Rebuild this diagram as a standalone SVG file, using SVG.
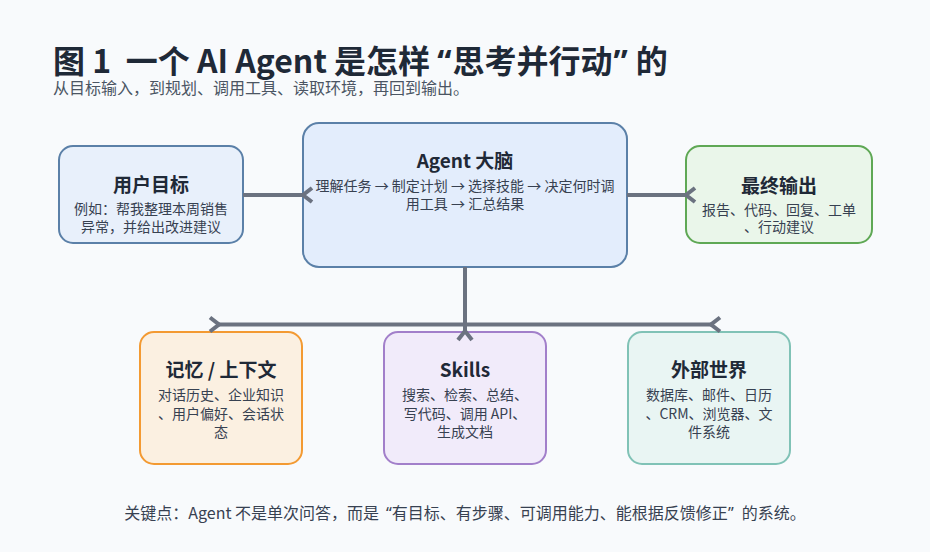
<svg xmlns="http://www.w3.org/2000/svg" width="930" height="552" viewBox="0 0 930 552">
<defs>
<style>
text{font-family:"Noto Sans CJK SC","Noto Sans",sans-serif;}
.title{font-size:32px;font-weight:700;fill:#1f2937;}
.sub{font-size:16px;fill:#4b5563;}
.nt{font-size:19px;font-weight:700;fill:#1f2937;text-anchor:middle;}
.nb{font-size:14px;fill:#374151;text-anchor:middle;}
.foot{font-size:16px;fill:#374151;text-anchor:middle;}
.q{font-family:"Noto Sans",sans-serif;}
.box{stroke-width:2;}
.conn{fill:none;stroke:#6b7280;stroke-width:4;marker-end:url(#chev);}
</style>
<marker id="chev" viewBox="-3 -10 16 20" markerWidth="16" markerHeight="20" refX="0" refY="0" orient="auto" markerUnits="userSpaceOnUse">
<path d="M9,-7 L0,0 L9,7" fill="none" stroke="#6b7280" stroke-width="4"/>
</marker>
</defs>
<rect width="930" height="552" fill="#f8fafc"/>
<text class="title" x="53" y="73" xml:space="preserve">图 1  一个 AI Agent 是怎样<tspan class="q" dx="7">“</tspan><tspan dx="1">思考并行动</tspan><tspan class="q" dx="1">”</tspan><tspan dx="8">的</tspan></text>
<text class="sub" x="53" y="94">从目标输入，到规划、调用工具、读取环境，再回到输出。</text>

<g id="node-goal">
<rect class="box" x="59" y="146" width="184" height="97" rx="14" fill="#e8f0fb" stroke="#5b80a8"/>
<text class="nt" x="151" y="192">用户目标</text>
<text class="nb" x="151" y="214">例如：帮我整理本周销售</text>
<text class="nb" x="151" y="232">异常，并给出改进建议</text>
</g>
<g id="node-brain">
<rect class="box" x="303" y="123" width="324" height="144" rx="16" fill="#e3edfc" stroke="#5b80a8"/>
<text class="nt" x="465" y="168">Agent 大脑</text>
<text class="nb" x="465" y="191">理解任务 → 制定计划 → 选择技能 → 决定何时调</text>
<text class="nb" x="465" y="209">用工具 → 汇总结果</text>
</g>
<g id="node-output">
<rect class="box" x="686" y="146" width="186" height="97" rx="14" fill="#eaf6ea" stroke="#5fa855"/>
<text class="nt" x="779" y="193">最终输出</text>
<text class="nb" x="779" y="215">报告、代码、回复、工单</text>
<text class="nb" x="779" y="232">、行动建议</text>
</g>
<g id="node-memory">
<rect class="box" x="140" y="332" width="162" height="132" rx="14" fill="#fbf0e1" stroke="#f39a32"/>
<text class="nt" x="221" y="377">记忆 / 上下文</text>
<text class="nb" x="221" y="400">对话历史、企业知识</text>
<text class="nb" x="221" y="418.5">、用户偏好、会话状</text>
<text class="nb" x="221" y="437">态</text>
</g>
<g id="node-skills">
<rect class="box" x="384" y="332" width="162" height="132" rx="14" fill="#f1ebfa" stroke="#a27fca"/>
<text class="nt" x="465" y="377">Skills</text>
<text class="nb" x="465" y="400">搜索、检索、总结、</text>
<text class="nb" x="465" y="418.5">写代码、调用 API、</text>
<text class="nb" x="465" y="437">生成文档</text>
</g>
<g id="node-world">
<rect class="box" x="628" y="332" width="162" height="132" rx="14" fill="#e9f5f3" stroke="#80c2b6"/>
<text class="nt" x="709" y="377">外部世界</text>
<text class="nb" x="709" y="400">数据库、邮件、日历</text>
<text class="nb" x="709" y="418.5">、CRM、浏览器、文</text>
<text class="nb" x="709" y="437">件系统</text>
</g>

<g id="connectors">
<path class="conn" d="M243,195 H303"/>
<path class="conn" d="M627,195 H686"/>
<path class="conn" d="M465,267 V324.5 H219"/>
<path class="conn" d="M465,267 V324.5 H711"/>
<path class="conn" d="M465,267 V331"/>
</g>

<text class="foot" x="465" y="519">关键点：Agent 不是单次问答，而是<tspan class="q" dx="7">“</tspan>有目标、有步骤、可调用能力、能根据反馈修正<tspan class="q">”</tspan><tspan dx="8">的系统。</tspan></text>
</svg>
